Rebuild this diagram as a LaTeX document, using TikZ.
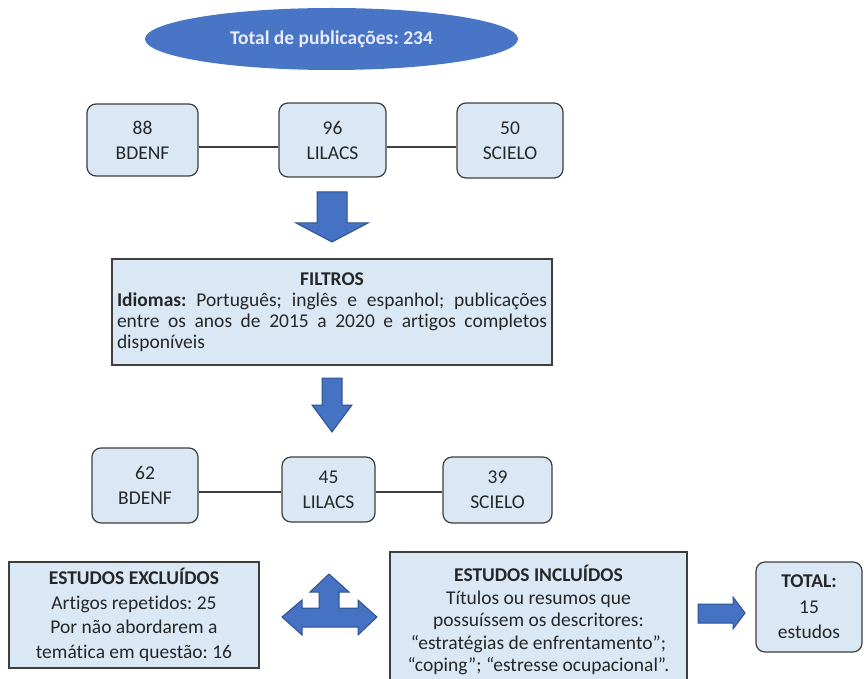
\documentclass[tikz,border=0pt]{standalone}
\usepackage{xcolor}
\usepackage{fontspec}
\setmainfont{Carlito}[Ligatures=NoCommon]
\frenchspacing
\usetikzlibrary{shapes.geometric,calc}
\definecolor{dbfill}{RGB}{218,232,245}
\definecolor{dbline}{RGB}{62,62,62}
\definecolor{arrowfill}{RGB}{70,114,196}
\definecolor{arrowline}{RGB}{47,82,143}
\definecolor{totalfill}{RGB}{72,117,197}
\newcommand{\downblock}[6]{
  % centre x, top, head base, tip, half shaft, half head
  \draw[blockarrow] (#1-#5,#2) -- (#1+#5,#2) -- (#1+#5,#3) -- (#1+#6,#3) -- (#1,#4) -- (#1-#6,#3) -- (#1-#5,#3) -- cycle;
}
\tikzstyle{dbnode}=[draw=dbline,fill=dbfill,line width=1.2pt,rounded corners=9pt,align=center,text=black!85,font=\fontsize{19.5}{25}\selectfont]
\tikzstyle{stagebox}=[draw=dbline,fill=dbfill,line width=1.2pt,text=black!85,align=center]
\tikzstyle{link}=[draw=dbline,line width=1.3pt]
\tikzstyle{blockarrow}=[draw=arrowline,fill=arrowfill,line width=1pt,line join=miter]
\tikzset{y=-1pt}
\tikzset{x=1pt}

\begin{document}
\begin{tikzpicture}
  \useasboundingbox (0,0) rectangle (865,679);
  \clip (0,0) rectangle (865,679);

  \draw (331.5,39) node[ellipse,fill=totalfill,minimum width=373pt,minimum height=62pt,text=white!92!blue,font=\fontsize{19.5}{24}\selectfont\bfseries] (total) {Total de publicações: 234};

  %% first search
  \draw (142.5,140) node[dbnode,minimum width=111pt,minimum height=72pt] (B1) {88\\BDENF};
  \draw (332.5,140) node[dbnode,minimum width=107pt,minimum height=74pt] (L1) {96\\LILACS};
  \draw (510,140.5) node[dbnode,minimum width=106pt,minimum height=75pt] (S1) {50\\SCIELO};
  \draw[link] ([yshift=-7pt]B1.east) -- ([yshift=-7pt]L1.west);
  \draw[link] ([yshift=-7pt]L1.east) -- ([yshift=-6.5pt]S1.west);

  \downblock{332}{192}{223}{242}{15}{36}

  \draw (332,312) node[stagebox,minimum width=440pt,minimum height=106pt,font=\fontsize{19.5}{21}\selectfont] (filters) {%
    \makebox[430pt][c]{\textbf{FILTROS}}\\
    \makebox[430pt][s]{\textbf{Idiomas:} Português; inglês e espanhol; publicações}\\
    \makebox[430pt][s]{entre os anos de 2015 a 2020 e artigos completos}\\
    \makebox[430pt][l]{disponíveis}};

  \downblock{332}{378}{405}{432}{10}{20}

  %% after filters
  \draw (145,485.5) node[dbnode,minimum width=106pt,minimum height=75pt] (B2) {62\\BDENF};
  \draw (328.5,489.5) node[dbnode,minimum width=93pt,minimum height=65pt] (L2) {45\\LILACS};
  \draw (497.5,490) node[dbnode,minimum width=109pt,minimum height=66pt] (S2) {39\\SCIELO};
  \draw[link] ([yshift=-6.5pt]B2.east) -- ([yshift=-2.5pt]L2.west);
  \draw[link] ([yshift=-2.5pt]L2.east) -- ([yshift=-2pt]S2.west);

  %% results
  \draw (134,615) node[stagebox,minimum width=250pt,minimum height=106pt,font=\fontsize{19.5}{24.5}\selectfont] (excluded) {\textbf{ESTUDOS EXCLUÍDOS}\\Artigos repetidos: 25\\Por não abordarem a\\temática em questão: 16};
  \draw (538.5,620) node[stagebox,minimum width=297pt,minimum height=136pt,font=\fontsize{19.5}{22.5}\selectfont] (included) {\textbf{ESTUDOS INCLUÍDOS}\\Títulos ou resumos que\\possuíssem os descritores:\\“estratégias de enfrentamento”;\\“coping”; “estresse ocupacional”.};
  \draw (809,607) node[dbnode,minimum width=106pt,minimum height=90pt,font=\fontsize{19.5}{25.5}\selectfont] (final) {\textbf{TOTAL:}\\15\\estudos};

  \draw[blockarrow] (329,574) -- (349,592) -- (339,592) -- (339,608) -- (358,608) -- (358,600) -- (377,617) -- (358,635) -- (358,627) -- (302,627) -- (302,635) -- (282,617) -- (302,600) -- (302,608) -- (319,608) -- (319,592) -- (310,592) -- cycle;
  \draw[blockarrow] (698,604) -- (733,604) -- (733,597) -- (745,613) -- (733,629) -- (733,623) -- (698,623) -- cycle;
\end{tikzpicture}
\end{document}
